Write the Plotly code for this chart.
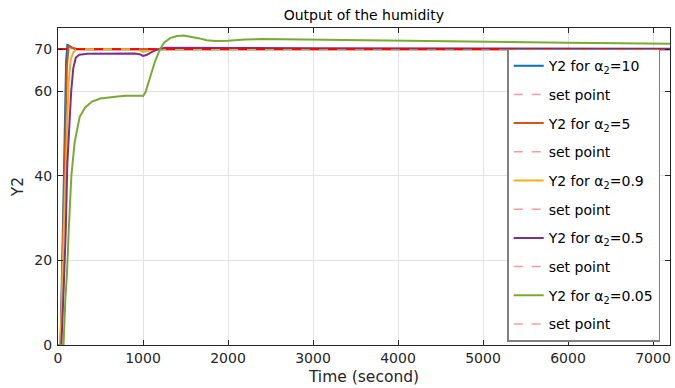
import plotly.graph_objects as go

# Humidity response Y2 for several alpha_2 values (time in seconds)
t_a10 = [0, 30, 60, 80, 95, 110, 125, 150, 200, 300, 7200]
y_a10 = [0, 0, 30, 55, 67, 71.0, 70.9, 70.4, 70.1, 70.0, 70.0]

t_a5 = [0, 30, 65, 85, 105, 125, 140, 170, 220, 300, 7200]
y_a5 = [0, 0, 30, 52, 66, 70.6, 70.7, 70.3, 70.05, 70.0, 70.0]

t_a09 = [0, 30, 70, 100, 125, 150, 180, 220, 300, 900, 950, 1000, 1050, 1100, 1200, 1500, 7200]
y_a09 = [0, 0, 28, 50, 62, 67.5, 69.3, 69.9, 70.0, 70.0, 69.8, 69.4, 69.55, 69.9, 70.05, 70.0, 70.0]

t_a05 = [0, 40, 70, 91, 110, 135, 155, 180, 210, 250, 350, 900, 960, 1000, 1040, 1100,
         1180, 1260, 1400, 2000, 3000, 5000, 7200]
y_a05 = [0, 0, 15, 27, 43, 53, 60, 65.5, 68, 68.7, 68.9, 68.95, 68.8, 68.4, 68.6, 69.3,
         70.0, 70.35, 70.35, 70.25, 70.2, 70.15, 70.1]

t_a005 = [0, 65, 87, 106, 126, 157, 196, 255, 320, 400, 500, 600, 700, 800, 900, 970, 1000,
          1030, 1060, 1100, 1140, 1200, 1250, 1320, 1400, 1480, 1560, 1650, 1750, 1850, 2000,
          2200, 2400, 2800, 3200, 4000, 5000, 6000, 7200]
y_a005 = [0, 0, 11, 17, 27, 40, 48, 54, 56.2, 57.6, 58.3, 58.6, 58.8, 59.0, 59.1, 59.0, 58.9,
          59.8, 61.8, 64.5, 67.0, 70.0, 71.6, 72.6, 73.1, 73.2, 73.0, 72.6, 72.1, 71.9, 72.0,
          72.3, 72.4, 72.3, 72.1, 71.9, 71.7, 71.5, 71.3]

setpoint_t = [0, 7200]
setpoint = 70

series = [
    ("10", t_a10, y_a10, "#0072BD"),
    ("5", t_a5, y_a5, "#D95319"),
    ("0.9", t_a09, y_a09, "#EDB120"),
    ("0.5", t_a05, y_a05, "#7E2F8E"),
    ("0.05", t_a005, y_a005, "#77AC30"),
]

FONT = "DejaVu Sans"
fig = go.Figure()

for i, (alpha, t, y, color) in enumerate(series):
    fig.add_trace(go.Scatter(
        x=t, y=y, mode="lines",
        line=dict(color=color, width=2),
        name=f"Y2 for α<sub>2</sub>={alpha}",
        legendgroup=f"y{i}",
    ))
    # reference line drawn in the plot
    fig.add_trace(go.Scatter(
        x=setpoint_t, y=[setpoint] * len(setpoint_t), mode="lines",
        line=dict(color="#FF0000", width=1.5, dash="dash"),
        showlegend=False, hoverinfo="skip",
    ))
    # legend entry for the set point
    fig.add_trace(go.Scatter(
        x=[None], y=[None], mode="lines",
        line=dict(color="#FF9A9A", width=1.5, dash="dash"),
        name="set point", legendgroup=f"s{i}",
    ))

axis_common = dict(
    showline=True, linecolor="#262626", linewidth=1,
    mirror="allticks", ticks="inside", ticklen=5, tickcolor="#262626",
    showgrid=True, gridcolor="#E3E3E3", gridwidth=1,
    zeroline=False,
    tickfont=dict(family=FONT, size=14, color="#262626"),
)

fig.update_layout(
    width=675, height=388,
    margin=dict(l=58, r=5, t=28, b=43),
    paper_bgcolor="white", plot_bgcolor="white",
    title=dict(text="Output of the humidity", x=0.539, xanchor="center",
               y=0.975, yanchor="top",
               font=dict(family=FONT, size=14, color="black")),
    xaxis=dict(range=[0, 7200], tickvals=[0, 1000, 2000, 3000, 4000, 5000, 6000, 7000],
               title=dict(text="Time (second)", standoff=6,
                          font=dict(family=FONT, size=15.5, color="#262626")),
               **axis_common),
    yaxis=dict(range=[0, 75], tickvals=[0, 20, 40, 60, 70],
               title=dict(text="Y2", standoff=6,
                          font=dict(family=FONT, size=15.5, color="#262626")),
               ticklabelstandoff=2,
               **axis_common),
    legend=dict(x=0.734, y=0.935, xanchor="left", yanchor="top",
                bgcolor="white", bordercolor="#808080", borderwidth=1.5,
                font=dict(family=FONT, size=14, color="black"),
                tracegroupgap=7.5, itemwidth=30),
    showlegend=True,
)

fig.write_html("out.html")
